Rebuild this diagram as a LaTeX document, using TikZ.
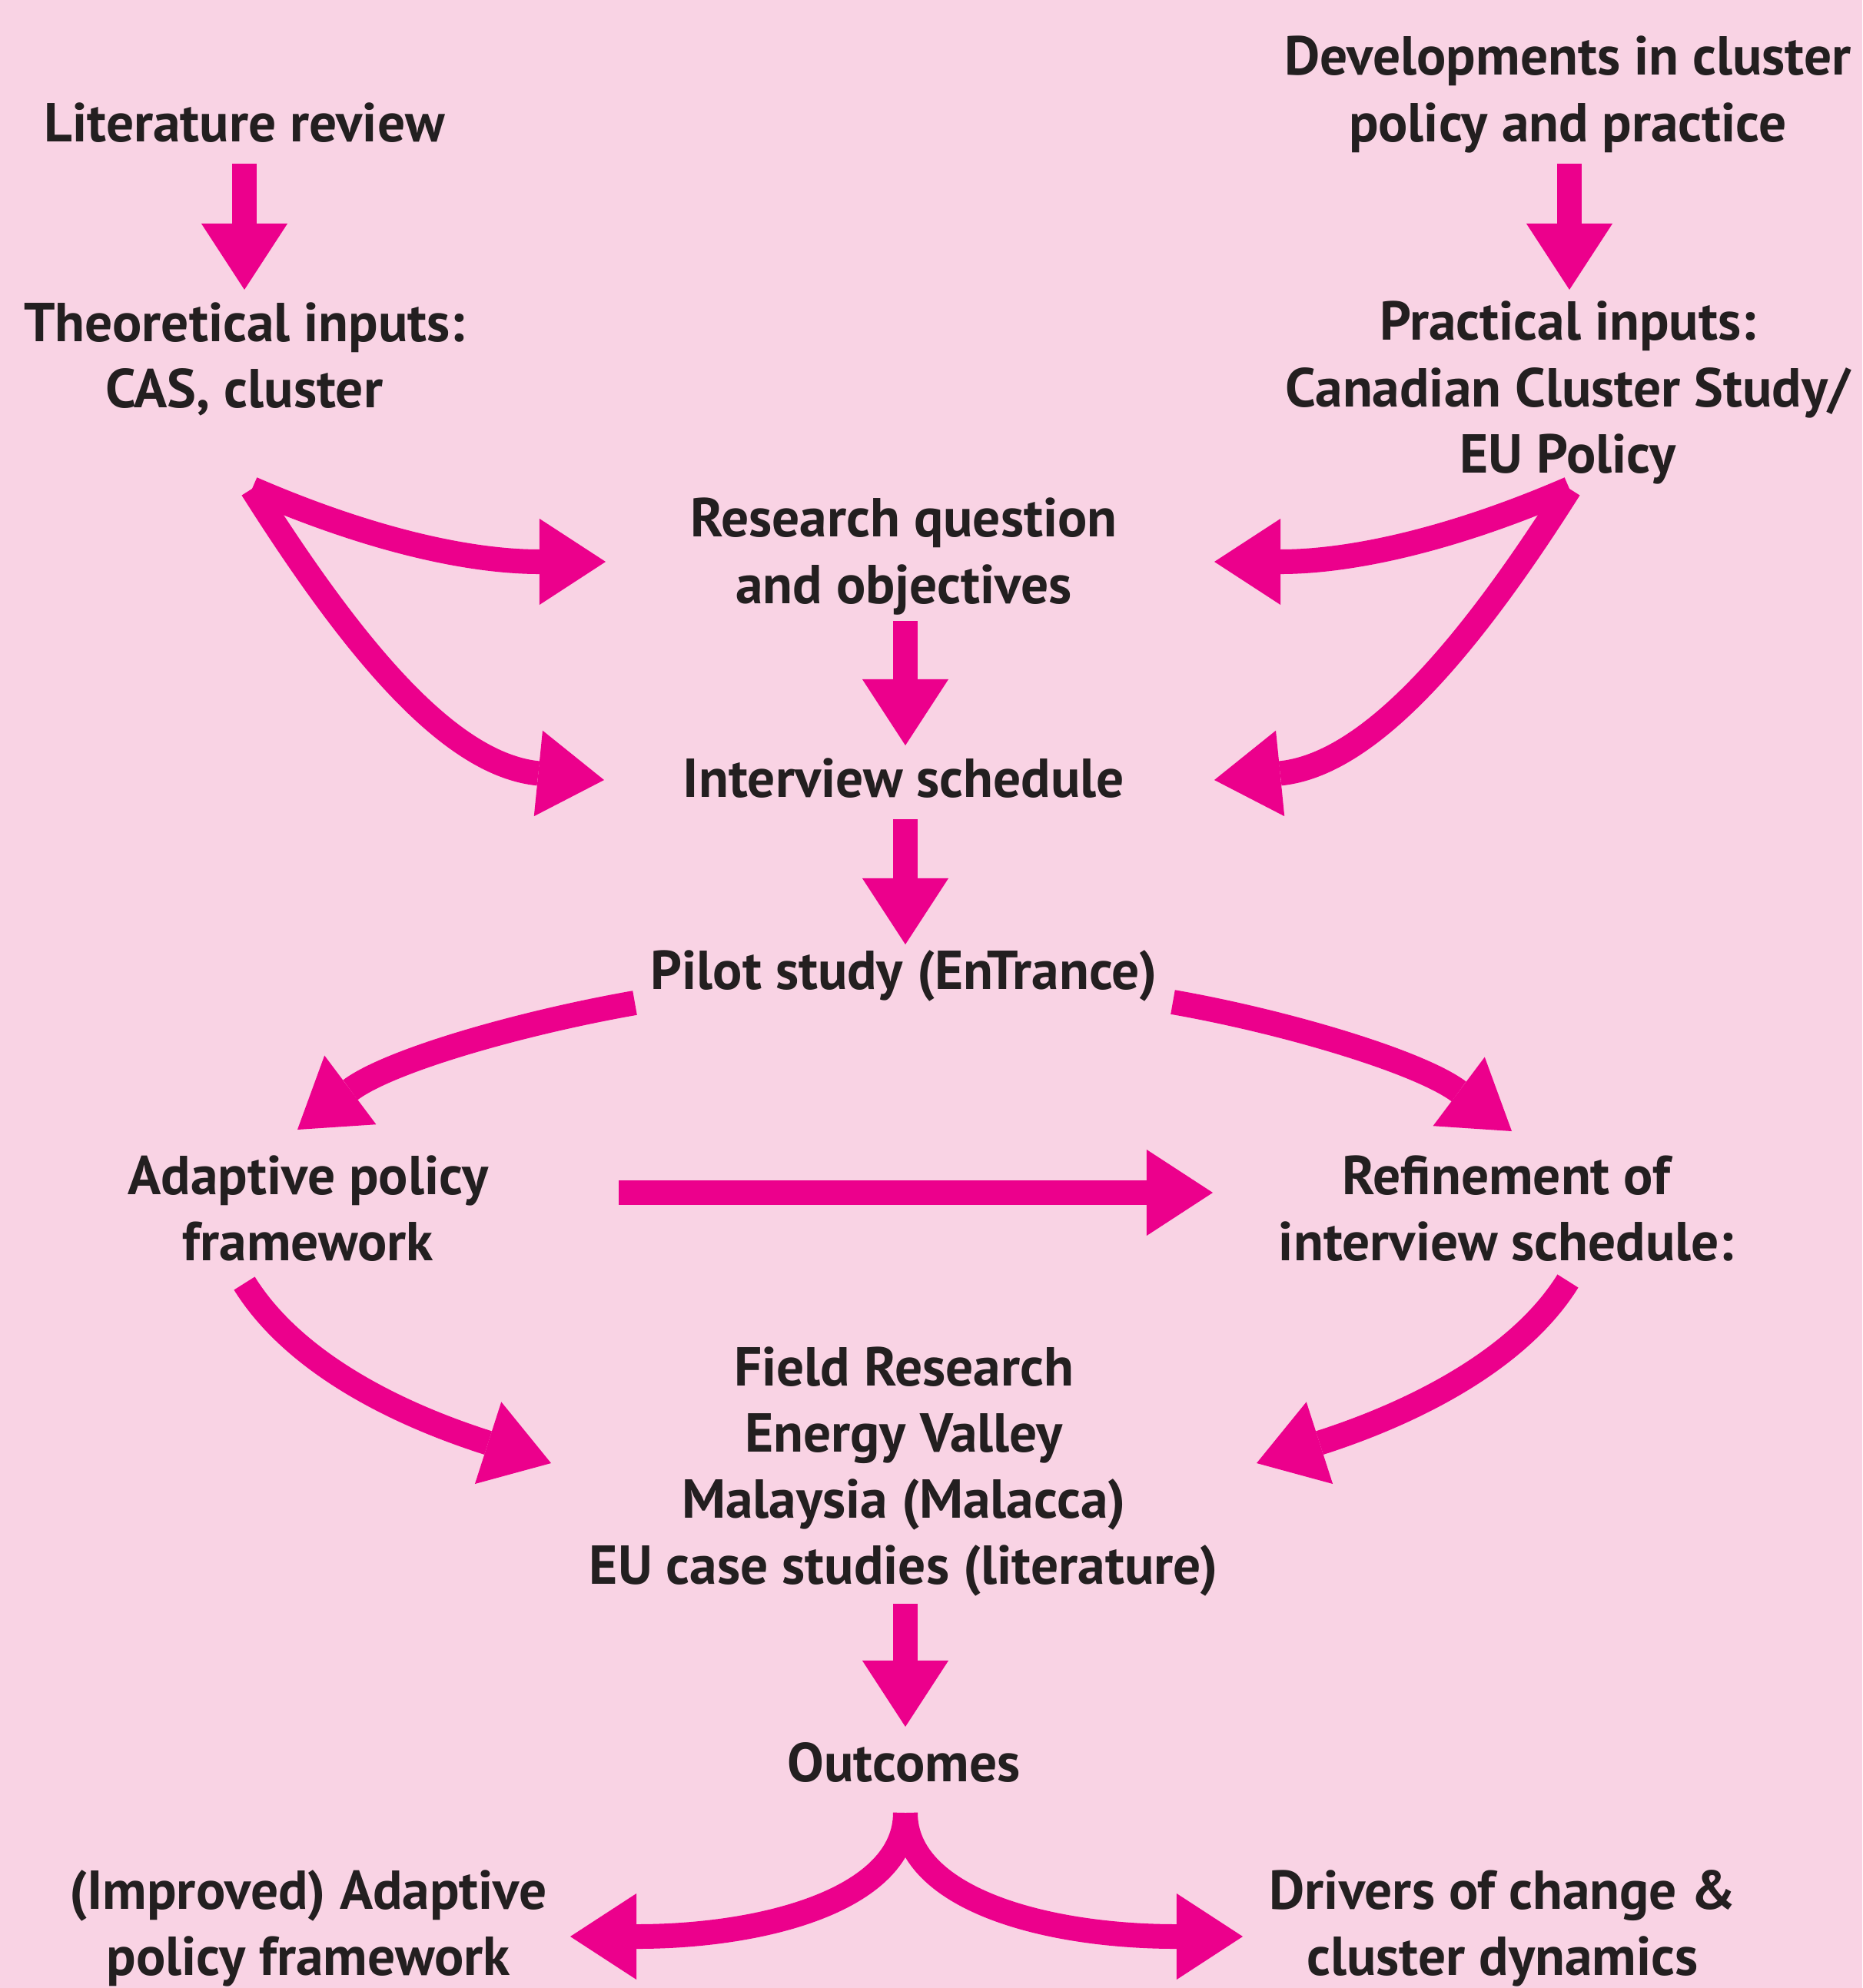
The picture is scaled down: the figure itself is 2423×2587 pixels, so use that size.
\documentclass[tikz,border=0pt]{standalone}
\usepackage{fontspec}
\setmainfont{PT Sans}
\usetikzlibrary{arrows.meta}
\definecolor{bg}{HTML}{F9D3E4}
\definecolor{mg}{HTML}{EC008C}
\definecolor{ink}{HTML}{231F20}
\begin{document}
\begin{tikzpicture}[x=0.01cm,y=-0.01cm]
	\tikzset{tx/.style={inner sep=0,text=ink,align=center,font=\fontsize{20.3}{24.5}\selectfont\bfseries},
	ar/.style={line width=0.32cm,draw=mg,-{Triangle[length=0.86cm,width=1.12cm,line width=0pt]}}}
	\fill[bg](0,0)rectangle(2423,2587);
	\path(318,160)node[tx](lit){Literature review}
	(318,467)node[tx](theo){Theoretical inputs:\\CAS, cluster}
	(2040,123)node[tx](dev){Developments in cluster\\policy and practice}
	(2040,511)node[tx](prac){Practical inputs:\\Canadian Cluster Study/\\EU Policy}
	(1176,724)node[tx](rq){Research question\\and objectives}
	(1176,1013)node[tx](sched){Interview schedule}
	(1176,1270)node[tx](pilot){Pilot study (EnTrance)}
	(401,1573)node[tx](apf){Adaptive policy\\framework}
	(1960,1573)node[tx](ref){Refinement of\\interview schedule:}
	(1176,1915)node[tx](field){Field Research\\Energy Valley\\Malaysia (Malacca)\\EU case studies (literature)}
	(1176,2293)node[tx](out){Outcomes}
	(401,2509)node[tx](imp){(Improved) Adaptive\\policy framework}
	(1955,2509)node[tx](drv){Drivers of change \&\\cluster dynamics};
	% arrow ends
	\coordinate(l1)at(318,213);\coordinate(l2)at(318,377);
	\coordinate(d1)at(2042,213);\coordinate(d2)at(2042,377);
	\coordinate(q1)at(1178,808);\coordinate(q2)at(1178,970);
	\coordinate(s1)at(1178,1066);\coordinate(s2)at(1178,1229);
	\coordinate(f1)at(1178,2087);\coordinate(f2)at(1178,2247);
	\coordinate(p1)at(805,1552);\coordinate(p2)at(1578,1552);
	\coordinate(tA)at(328,636);\coordinate(tB)at(788,731);\coordinate(tC)at(786,1015);
	\coordinate(pA)at(2042,636);\coordinate(pB)at(1580,731);\coordinate(pC)at(1580,1015);
	\coordinate(iA)at(826,1305);\coordinate(iB)at(387,1470);
	\coordinate(jA)at(1526,1304);\coordinate(jB)at(1967,1472);
	\coordinate(aA)at(318,1670);\coordinate(aB)at(717,1904);
	\coordinate(rA)at(2040,1667);\coordinate(rB)at(1635,1904);
	\coordinate(oA)at(1178,2359);\coordinate(oB)at(742,2520);\coordinate(oC)at(1617,2520);
	\foreach \x/\y in {l1/l2,d1/d2,q1/q2,s1/s2,f1/f2,p1/p2}
	\draw[ar](\x)--(\y);
	\draw[ar](tA)..controls +(150,65) and +(-180,0)..(tB);
	\draw[ar](tA)..controls +(136,215) and +(-199,-20)..(tC);
	\draw[ar](pA)..controls +(-150,65) and +(180,0)..(pB);
	\draw[ar](pA)..controls +(-136,215) and +(199,-20)..(pC);
	\draw[ar](iA)..controls +(-148,26) and +(120,-90)..(iB);
	\draw[ar](jA)..controls +(148,26) and +(-120,-90)..(jB);
	\draw[ar](aA)..controls +(79,127) and +(-143,-46)..(aB);
	\draw[ar](rA)..controls +(-79,127) and +(143,-46)..(rB);
	\draw[ar](oA)..controls +(0,110) and +(258,0)..(oB);
	\draw[ar](oA)..controls +(0,110) and +(-261,0)..(oC);
\end{tikzpicture}
\end{document}
